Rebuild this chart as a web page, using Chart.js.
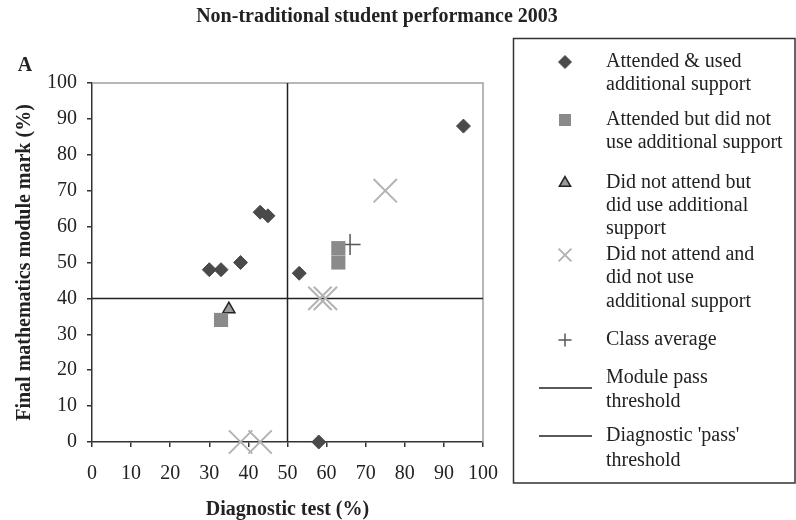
<!DOCTYPE html>
<html>
<head>
<meta charset="utf-8">
<style>
html,body{margin:0;padding:0;background:#fff;}
#wrap{width:796px;height:520px;position:relative;}
</style>
<script src="https://cdn.jsdelivr.net/npm/chart.js@4/dist/chart.umd.min.js"></script>
</head>
<body>
<div id="wrap"><canvas id="c" width="796" height="520"></canvas></div>
<script>
// ---- data ----
const chartTitle = "Non-traditional student performance 2003";
const panelLetter = "A";
const xAxisTitle = "Diagnostic test (%)";
const yAxisTitle = "Final mathematics module mark (%)";
const axisTicks = [0, 10, 20, 30, 40, 50, 60, 70, 80, 90, 100];

const attendedUsedX = [30, 33, 38, 43, 45, 53, 58, 95];
const attendedUsedY = [48, 48, 50, 64, 63, 47, 0, 88];

const attendedNotUsedX = [33, 63, 63];
const attendedNotUsedY = [34, 50, 54];

const notAttendedUsedX = [35];
const notAttendedUsedY = [37];

const notAttendedNotUsedX = [38, 43, 58.3, 59.7, 75];
const notAttendedNotUsedY = [0, 0, 40, 40, 70];

const classAverageX = [66];
const classAverageY = [55];

const modulePassMark = 40;      // horizontal threshold
const diagnosticPassMark = 50;  // vertical threshold

const seriesLabels = [
  ["Attended & used", "additional support"],
  ["Attended but did not", "use additional support"],
  ["Did not attend but", "did use additional", "support"],
  ["Did not attend and", "did not use", "additional support"],
  ["Class average"],
  ["Module pass", "threshold"],
  ["Diagnostic 'pass'", "threshold"]
];

// ---- helpers ----
const SERIF = "'Liberation Serif', 'Times New Roman', serif";
const TXT = '#222';
const zip = (xs, ys) => xs.map((x, i) => ({x: x, y: ys[i]}));

const styles = [
  {pointStyle: 'rectRot', radius: 7, backgroundColor: '#4a4a4a', borderColor: '#4a4a4a', borderWidth: 1, legendRadius: 6.5},
  {pointStyle: 'rect', radius: 10, backgroundColor: '#8a8a8a', borderColor: '#8a8a8a', borderWidth: 0, legendRadius: 8.5},
  {pointStyle: 'triangle', radius: 7, backgroundColor: '#9a9a9a', borderColor: '#222', borderWidth: 1.5, legendRadius: 6.5},
  {pointStyle: 'crossRot', radius: 16.5, backgroundColor: 'rgba(0,0,0,0)', borderColor: '#b3b3b3', borderWidth: 2, legendRadius: 9},
  {pointStyle: 'cross', radius: 10.5, backgroundColor: 'rgba(0,0,0,0)', borderColor: '#555', borderWidth: 1.5, legendRadius: 6.5}
];

const datasets = [
  [attendedUsedX, attendedUsedY],
  [attendedNotUsedX, attendedNotUsedY],
  [notAttendedUsedX, notAttendedUsedY],
  [notAttendedNotUsedX, notAttendedNotUsedY],
  [classAverageX, classAverageY]
].map((d, i) => ({
  label: seriesLabels[i].join(' '),
  data: zip(d[0], d[1]),
  clip: false,
  pointStyle: styles[i].pointStyle,
  pointRadius: styles[i].radius,
  pointHoverRadius: styles[i].radius,
  pointBackgroundColor: styles[i].backgroundColor,
  pointBorderColor: styles[i].borderColor,
  pointBorderWidth: styles[i].borderWidth,
  backgroundColor: styles[i].backgroundColor,
  borderColor: styles[i].borderColor,
  showLine: false
}));

datasets.push({
  label: seriesLabels[5].join(' '),
  data: [{x: axisTicks[0], y: modulePassMark}, {x: axisTicks[axisTicks.length - 1], y: modulePassMark}],
  showLine: true, pointRadius: 0, borderColor: '#222', borderWidth: 1.5, fill: false
});
datasets.push({
  label: seriesLabels[6].join(' '),
  data: [{x: diagnosticPassMark, y: axisTicks[0]}, {x: diagnosticPassMark, y: axisTicks[axisTicks.length - 1]}],
  showLine: true, pointRadius: 0, borderColor: '#222', borderWidth: 1.5, fill: false
});

// legend line positions (text rows)
const legendRows = [[62, 85], [120, 143], [183, 206, 229], [255, 278, 302], [340], [378, 402], [436, 461]];
const legendMarkerY = [62, 120, 183, 255, 340, 388, 436];

const decor = {
  id: 'decor',
  beforeDatasetsDraw(chart) {
    const {ctx, chartArea: a} = chart;
    ctx.save();
    ctx.strokeStyle = '#a0a0a0';
    ctx.lineWidth = 1.5;
    ctx.beginPath();
    ctx.moveTo(a.left, a.top);
    ctx.lineTo(a.right, a.top);
    ctx.lineTo(a.right, a.bottom);
    ctx.stroke();
    ctx.restore();
  },
  afterDraw(chart) {
    const ctx = chart.ctx;
    ctx.save();
    ctx.fillStyle = TXT;
    ctx.textBaseline = 'middle';
    ctx.font = 'bold 20px ' + SERIF;
    ctx.textAlign = 'center';
    ctx.fillText(chartTitle, 377, 17);
    ctx.fillText(panelLetter, 25, 66);

    // legend box
    ctx.strokeStyle = '#333';
    ctx.lineWidth = 1.5;
    ctx.strokeRect(513.5, 38.5, 281.5, 444.5);

    // legend markers
    for (let i = 0; i < 5; i++) {
      const s = styles[i];
      ctx.fillStyle = s.backgroundColor;
      ctx.strokeStyle = s.borderColor;
      ctx.lineWidth = s.borderWidth || 0.0001;
      Chart.helpers.drawPoint(ctx, {pointStyle: s.pointStyle, radius: s.legendRadius, rotation: 0, borderWidth: s.borderWidth}, 565, legendMarkerY[i]);
    }
    ctx.strokeStyle = '#222';
    ctx.lineWidth = 1.5;
    for (let i = 5; i < 7; i++) {
      ctx.beginPath();
      ctx.moveTo(539, legendMarkerY[i]);
      ctx.lineTo(592, legendMarkerY[i]);
      ctx.stroke();
    }
    // legend text
    ctx.fillStyle = TXT;
    ctx.font = '20px ' + SERIF;
    ctx.textAlign = 'left';
    seriesLabels.forEach((lines, i) => {
      lines.forEach((t, j) => ctx.fillText(t, 606, legendRows[i][j]));
    });
    ctx.restore();
  }
};

const setTicks = (scale) => { scale.ticks = axisTicks.map(v => ({value: v})); };

const axisCommon = {
  type: 'linear',
  min: axisTicks[0],
  max: axisTicks[axisTicks.length - 1],
  afterBuildTicks: setTicks,
  grid: {drawOnChartArea: false, drawTicks: true, tickLength: 5, color: '#333', lineWidth: 1.5},
  border: {display: true, color: '#333', width: 1.5}
};

new Chart(document.getElementById('c'), {
  type: 'scatter',
  data: {datasets: datasets},
  plugins: [decor],
  options: {
    responsive: false,
    animation: false,
    devicePixelRatio: 1,
    layout: {padding: {top: 83, right: 313, bottom: 0, left: 0}},
    plugins: {legend: {display: false}, title: {display: false}, tooltip: {enabled: false}},
    scales: {
      x: Object.assign({}, axisCommon, {
        position: 'bottom',
        afterFit: (s) => { s.height = 78; },
        ticks: {font: {family: SERIF, size: 20}, color: TXT, padding: 15, maxRotation: 0, autoSkip: false},
        title: {display: true, text: xAxisTitle, color: TXT, font: {family: SERIF, size: 20, weight: 'bold', lineHeight: 1}, padding: {top: 0, bottom: 0}}
      }),
      y: Object.assign({}, axisCommon, {
        position: 'left',
        afterFit: (s) => { s.width = 92; },
        ticks: {font: {family: SERIF, size: 20}, color: TXT, padding: 10, autoSkip: false},
        title: {display: true, text: yAxisTitle, color: TXT, font: {family: SERIF, size: 20, weight: 'bold', lineHeight: 1}, padding: {top: 15, bottom: 0}}
      })
    }
  }
});
</script>
</body>
</html>
